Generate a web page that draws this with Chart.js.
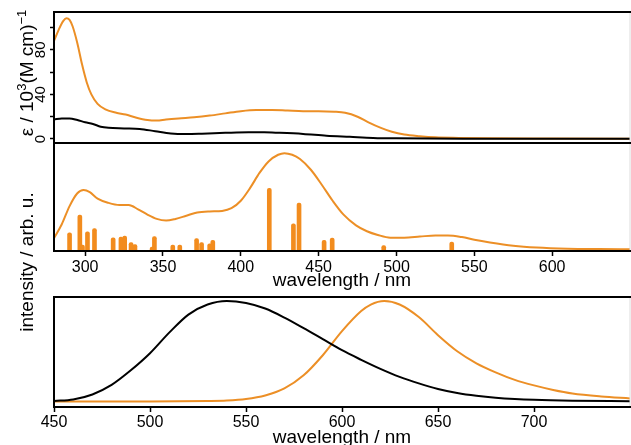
<!DOCTYPE html>
<html>
<head>
<meta charset="utf-8">
<script src="https://cdn.jsdelivr.net/npm/chart.js@4.4.1/dist/chart.umd.min.js"></script>
<style>
  html, body { margin: 0; padding: 0; background: #fff; overflow: hidden; }
  body { width: 631px; height: 445px; position: relative; font-family: "Liberation Sans", Arial, sans-serif; }
  .panel { position: absolute; left: 0; width: 631px; }
  .ylab { position: absolute; font-size: 19px; line-height: 20px; white-space: nowrap; color: #000;
          transform: translate(-50%, -50%) rotate(-90deg); }
  .ylab sup { font-size: 13px; line-height: 0; vertical-align: 7px; }
</style>
</head>
<body>
<div class="panel" style="top:0;height:146px"><canvas id="absChart"></canvas></div>
<div class="panel" style="top:140px;height:155px"><canvas id="calcChart"></canvas></div>
<div class="panel" style="top:290px;height:165px"><canvas id="emChart"></canvas></div>
<div class="ylab" style="left:27px;top:73px">ε / 10<sup>3</sup>(M cm)<sup>−1</sup></div>
<div class="ylab" style="left:27px;top:262px">intensity / arb. u.</div>
<script>
// absorption (epsilon, 10^3 M^-1 cm^-1)
const absOrangeWl = [280, 283, 286, 288, 290, 292, 295, 298, 301, 304, 308, 313, 320, 326, 332, 340, 346, 352, 360, 370, 380, 390, 400, 410, 420, 430, 440, 450, 460, 467, 475, 482, 490, 497, 505, 515, 525, 540, 560, 600, 650];
const absOrange   = [88, 98, 106, 108.5, 107, 101, 86, 67, 51, 40, 31.5, 26.5, 23.5, 22, 19.5, 17, 16.5, 17.5, 18.5, 19.5, 21, 23, 25, 26, 26, 25.5, 25, 25, 24.5, 23.5, 20, 15, 10, 6.5, 4, 2.5, 1.5, 1, 0.6, 0.4, 0.3];
const absBlackWl  = [280, 285, 290, 295, 300, 305, 310, 315, 325, 335, 345, 355, 365, 375, 390, 405, 415, 425, 440, 455, 470, 485, 500, 550, 650];
const absBlack    = [17.5, 18.5, 18.5, 17, 15, 13.5, 11, 10, 9.5, 9, 7, 5, 4.5, 4.8, 5.5, 6, 6, 5.5, 4.5, 3, 2, 1, 0.6, 0.3, 0.2];
const epsTicks = [0, 40, 80];

// calculated spectrum: envelope and sticks
const envWl = [280, 285, 290, 295, 299, 303, 308, 315, 322, 328, 334, 340, 346, 352, 358, 365, 372, 380, 388, 394, 400, 406, 412, 418, 424, 428, 433, 438, 445, 452, 459, 466, 474, 481, 488, 496, 505, 515, 525, 533, 542, 550, 560, 575, 590, 610, 630, 650];
const envVal = [0.12, 0.25, 0.42, 0.54, 0.57, 0.55, 0.49, 0.45, 0.43, 0.43, 0.39, 0.34, 0.30, 0.285, 0.30, 0.33, 0.36, 0.37, 0.375, 0.40, 0.47, 0.59, 0.73, 0.84, 0.90, 0.915, 0.90, 0.86, 0.76, 0.62, 0.47, 0.34, 0.24, 0.185, 0.15, 0.125, 0.125, 0.135, 0.145, 0.145, 0.13, 0.105, 0.08, 0.05, 0.033, 0.022, 0.018, 0.016];
const stickWl  = [290, 296.6, 298.3, 301.5, 306, 318, 323, 325.4, 329.5, 332, 343, 344.5, 356.3, 360.8, 371.6, 374.8, 380, 382, 418.3, 433.8, 437.4, 453.5, 458.7, 491.8, 535.5];
const stickVal = [0.17, 0.336, 0.056, 0.18, 0.21, 0.124, 0.13, 0.14, 0.078, 0.06, 0.037, 0.134, 0.056, 0.056, 0.115, 0.078, 0.068, 0.1, 0.586, 0.255, 0.449, 0.1, 0.121, 0.05, 0.084];

// emission (normalised)
const emBlackWl  = [450, 460, 470, 480, 490, 500, 510, 520, 530, 540, 550, 560, 570, 580, 590, 600, 610, 620, 630, 640, 650, 660, 670, 680, 690, 700, 720, 750];
const emBlack    = [0.005, 0.02, 0.07, 0.165, 0.31, 0.48, 0.685, 0.865, 0.965, 1.0, 0.98, 0.925, 0.835, 0.73, 0.62, 0.51, 0.415, 0.325, 0.245, 0.18, 0.125, 0.085, 0.057, 0.037, 0.024, 0.016, 0.008, 0.003];
const emOrangeWl = [450, 500, 530, 540, 550, 560, 570, 580, 590, 600, 610, 615, 622, 630, 640, 650, 660, 670, 680, 690, 700, 710, 720, 735, 750];
const emOrange   = [0.0, 0.0, 0.005, 0.01, 0.025, 0.06, 0.13, 0.26, 0.46, 0.70, 0.90, 0.965, 1.0, 0.965, 0.84, 0.66, 0.50, 0.38, 0.29, 0.215, 0.16, 0.115, 0.08, 0.05, 0.03];

const ORANGE = '#ec8f26';
const BAR = '#f28c1e';
const FONT = '"Liberation Sans", Arial, sans-serif';

function pts(xs, ys) { return xs.map((x, i) => ({ x: x, y: ys[i] })); }

function line(xs, ys, color) {
    return {
        type: 'line', data: pts(xs, ys), borderColor: color, borderWidth: 2,
        pointRadius: 0, cubicInterpolationMode: 'monotone', fill: false
    };
}

// frame around each panel
const boxPlugin = {
    id: 'box',
    afterDraw(chart) {
        const { ctx, chartArea: a } = chart;
        ctx.save();
        ctx.strokeStyle = '#ddd';
        ctx.lineWidth = 1;
        ctx.beginPath();
        ctx.moveTo(a.right, a.top);
        ctx.lineTo(a.right, a.bottom);
        ctx.stroke();
        ctx.strokeStyle = '#000';
        ctx.lineWidth = 2;
        ctx.beginPath();
        ctx.moveTo(chart.width, a.top);
        ctx.lineTo(a.left, a.top);
        ctx.lineTo(a.left, a.bottom);
        ctx.lineTo(chart.width, a.bottom);
        ctx.stroke();
        ctx.restore();
    }
};

// y labels of the top panel run parallel to the axis
const rotLabels = {
    id: 'rotLabels',
    afterDraw(chart) {
        const s = chart.scales.y;
        const ctx = chart.ctx;
        ctx.save();
        ctx.font = '15px ' + FONT;
        ctx.fillStyle = '#000';
        ctx.textAlign = 'center';
        ctx.textBaseline = 'middle';
        epsTicks.forEach(v => {
            ctx.save();
            ctx.translate(41, s.getPixelForValue(v));
            ctx.rotate(-Math.PI / 2);
            ctx.fillText(String(v), 0, 0);
            ctx.restore();
        });
        ctx.restore();
    }
};

const tickGrid = { drawOnChartArea: false, drawTicks: true, tickLength: 5, color: '#000', tickWidth: 1.5 };

function xAxis(min, max, lo, hi, height, tickPad, titlePad) {
    return {
        type: 'linear', min: min, max: max, offset: false,
        grid: Object.assign({ offset: false }, tickGrid),
        border: { display: false },
        ticks: { stepSize: 50, includeBounds: false, padding: tickPad, color: '#000', font: { family: FONT, size: 16 } },
        title: { display: true, text: 'wavelength / nm', color: '#000', font: { family: FONT, size: 19 }, padding: { top: 0, bottom: titlePad } },
        afterBuildTicks: s => { s.ticks = s.ticks.filter(t => t.value >= lo && t.value <= hi); },
        afterFit: s => { s.height = height; }
    };
}

const common = {
    responsive: true, maintainAspectRatio: false, animation: false,
    plugins: { legend: { display: false }, tooltip: { enabled: false } }
};

// Absorption panel
new Chart(document.getElementById('absChart'), {
    type: 'line',
    data: { datasets: [line(absBlackWl, absBlack, '#000'), line(absOrangeWl, absOrange, ORANGE)] },
    options: Object.assign({}, common, {
        layout: { padding: { top: 12, right: 1, bottom: 3, left: 0 } },
        scales: {
            x: { type: 'linear', min: 280, max: 650, display: false },
            y: {
                min: -3.6, max: 114,
                grid: Object.assign({}, tickGrid, { tickLength: 4 }),
                border: { display: false },
                ticks: { stepSize: 20, includeBounds: false, display: false },
                afterFit: s => { s.width = 54; }
            }
        }
    }),
    plugins: [boxPlugin, rotLabels]
});

// Calculated sticks + envelope
new Chart(document.getElementById('calcChart'), {
    type: 'bar',
    data: {
        datasets: [
            line(envWl, envVal, ORANGE),
            { type: 'bar', data: pts(stickWl, stickVal), backgroundColor: BAR, barThickness: 4, borderRadius: 2, borderSkipped: false }
        ]
    },
    options: Object.assign({}, common, {
        layout: { padding: { top: 3, right: 1, bottom: 0, left: 54 } },
        scales: {
            x: xAxis(280, 650, 300, 600, 44, 2, 3),
            y: { min: 0, max: 1.01, display: false }
        }
    }),
    plugins: [boxPlugin]
});

// Emission panel
new Chart(document.getElementById('emChart'), {
    type: 'line',
    data: { datasets: [line(emBlackWl, emBlack, '#000'), line(emOrangeWl, emOrange, ORANGE)] },
    options: Object.assign({}, common, {
        layout: { padding: { top: 7, right: 1, bottom: 0, left: 54 } },
        scales: {
            x: xAxis(450, 750, 450, 700, 48, 1, 6),
            y: { min: -0.055, max: 1.04, display: false }
        }
    }),
    plugins: [boxPlugin]
});
</script>
</body>
</html>
